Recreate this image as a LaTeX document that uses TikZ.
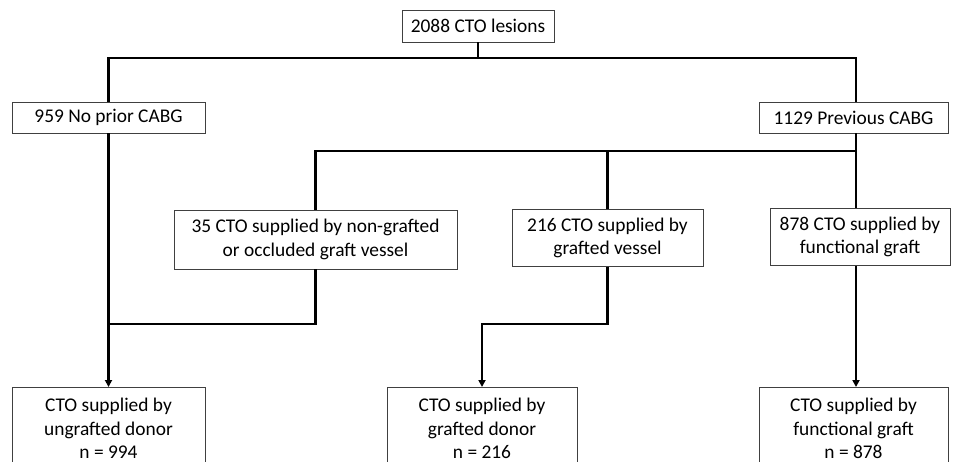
\documentclass[tikz,border=0pt]{standalone}
\usepackage{fontspec}
\setmainfont{Carlito}
\usetikzlibrary{arrows.meta}
\begin{document}
\begin{tikzpicture}[x=1pt,y=-1pt,
  box/.style={draw=black!75, line width=0.9pt, align=center, inner sep=0pt, font=\fontsize{19.4}{23.2}\selectfont},
  conn/.style={line width=2.3pt},
  arr/.style={conn, -{Triangle[length=7pt,width=7pt]}}]
\useasboundingbox (0,0) rectangle (953,461);
\clip (0,0) rectangle (953,461);
\node[box, minimum width=152pt, minimum height=32pt] (top) at (478,26) {2088 CTO lesions};
\node[box, minimum width=193pt, minimum height=31pt] (left) at (108.5,117.5) {959 No prior CABG};
\node[box, minimum width=189pt, minimum height=31pt] (right) at (853.5,117.5) {1129 Previous CABG};
\node[box, minimum width=283pt, minimum height=59pt] (m1) at (315.5,239.5) {35 CTO supplied by non-grafted\\or occluded graft vessel};
\node[box, minimum width=191pt, minimum height=57pt] (m2) at (607.5,238) {216 CTO supplied by\\grafted vessel};
\node[box, minimum width=180pt, minimum height=57pt] (m3) at (860,237) {878 CTO supplied by\\functional graft};
\node[box, minimum width=193pt, minimum height=82pt, anchor=north] (b1) at (108.5,387) {CTO supplied by\\ungrafted donor\\n = 994};
\node[box, minimum width=190pt, minimum height=82pt, anchor=north] (b2) at (482,387) {CTO supplied by\\grafted donor\\n = 216};
\node[box, minimum width=189pt, minimum height=82pt, anchor=north] (b3) at (853.5,387) {CTO supplied by\\functional graft\\n = 878};
\coordinate (busA) at (0,58);
\coordinate (busB) at (0,151);
\coordinate (busC) at (0,324);
\coordinate (vx) at (856,0);
\draw[conn] (top.south) -- (top.south |- busA);
\draw[conn] (left.north) -- (left.north |- busA) -- (vx |- busA) -- (vx |- right.north);
\draw[conn] (vx |- right.south) -- (vx |- m3.north);
\draw[conn] (m1.north) |- (vx |- busB);
\draw[conn] (m2.north) -- (m2.north |- busB);
\draw[arr] (left.south) -- (b1.north);
\draw[conn] (m1.south) |- (left.south |- busC);
\draw[arr] (m2.south) |- (b2.north |- busC) -- (b2.north);
\draw[arr] (vx |- m3.south) -- (vx |- b3.north);
\end{tikzpicture}
\end{document}
